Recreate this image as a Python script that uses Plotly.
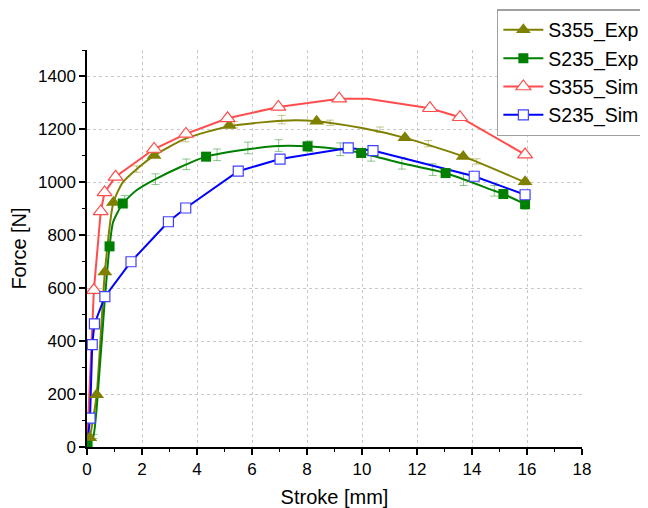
import plotly.graph_objects as go

# ---------------- data ----------------
# S355_Exp smooth curve and its marked points
s355_exp_curve_x = [0, 0.1, 0.35, 0.65, 0.96, 1.3, 1.75, 2.44, 3.58, 5.17, 7.1, 8.35, 10.0, 11.56, 13.68, 15.93]
s355_exp_curve_y = [0, 35, 197, 661, 924, 1000, 1045, 1101, 1165, 1212, 1233, 1231, 1205, 1168, 1098, 1000]
s355_exp_mark_x = [0.1, 0.35, 0.65, 0.96, 2.44, 5.17, 8.35, 11.56, 13.68, 15.93]
s355_exp_mark_y = [35, 197, 661, 924, 1101, 1215, 1231, 1168, 1098, 1002]
s355_exp_err_x = [1.81, 3.58, 5.35, 7.08, 8.84, 10.65, 12.41, 14.17, 15.93]
s355_exp_err_y = [1050, 1165, 1218, 1237, 1225, 1199, 1146, 1079, 1000]
s355_exp_err = [12, 12, 12, 16, 10, 10, 12, 10, 10]

# S235_Exp smooth curve and its marked points
s235_exp_curve_x = [0, 0.23, 0.45, 0.65, 0.82, 0.95, 1.3, 1.8, 2.49, 3.38, 4.33, 5.85, 6.97, 8.02, 9.21, 9.97, 11.45, 13.04, 14.81, 15.14, 15.93]
s235_exp_curve_y = [0, 40, 280, 560, 758, 850, 920, 970, 1012, 1057, 1097, 1125, 1137, 1136, 1125, 1111, 1072, 1035, 968, 956, 918]
s235_exp_mark_x = [0.02, 0.82, 1.30, 4.33, 8.02, 9.97, 13.04, 15.14, 15.93]
s235_exp_mark_y = [5, 758, 920, 1097, 1136, 1111, 1035, 956, 918]
s235_exp_err_x = [0.23, 1.37, 2.49, 3.61, 4.73, 5.85, 6.97, 8.09, 9.21, 10.33, 11.45, 12.57, 13.69, 14.81, 15.93]
s235_exp_err_y = [40, 930, 1012, 1068, 1104, 1130, 1139, 1136, 1125, 1100, 1072, 1048, 1010, 968, 912]
s235_exp_err = [8, 20, 20, 20, 22, 22, 22, 20, 24, 20, 22, 22, 22, 20, 14]

# S355_Sim polyline and its marked points
s355_sim_x = [0, 0.25, 0.50, 0.64, 1.04, 2.44, 3.6, 5.11, 6.96, 9.17, 10.2, 12.47, 13.56, 15.93]
s355_sim_y = [0, 593, 890, 962, 1021, 1126, 1183, 1242, 1285, 1316, 1316, 1280, 1246, 1105]
s355_sim_mark_x = [0.25, 0.50, 0.64, 1.04, 2.44, 3.6, 5.11, 6.96, 9.17, 12.47, 13.56, 15.93]
s355_sim_mark_y = [593, 890, 962, 1021, 1126, 1183, 1242, 1285, 1316, 1280, 1246, 1105]

# S235_Sim polyline and its marked points
s235_sim_x = [0, 0.11, 0.19, 0.27, 0.65, 1.60, 2.96, 3.59, 5.50, 7.02, 9.50, 10.4, 14.08, 15.93]
s235_sim_y = [0, 109, 387, 465, 568, 700, 851, 903, 1042, 1088, 1130, 1120, 1023, 953]
s235_sim_mark_x = [0.11, 0.19, 0.27, 0.65, 1.60, 2.96, 3.59, 5.50, 7.02, 9.50, 10.4, 14.08, 15.93]
s235_sim_mark_y = [109, 387, 465, 568, 700, 851, 903, 1042, 1088, 1130, 1120, 1023, 953]

legend_names = ["S355_Exp", "S235_Exp", "S355_Sim", "S235_Sim"]
x_tick_vals = [0, 2, 4, 6, 8, 10, 12, 14, 16, 18]
y_tick_vals = [0, 200, 400, 600, 800, 1000, 1200, 1400]

OLIVE = "#808000"
GREEN = "#008000"
RED = "#ff4d4d"
BLUE = "#0000ff"

fig = go.Figure()

# error bars (light)
fig.add_trace(go.Scatter(x=s355_exp_err_x, y=s355_exp_err_y, mode="markers",
                         marker=dict(size=1, color="rgba(0,0,0,0)"), showlegend=False, hoverinfo="skip",
                         error_y=dict(type="data", array=s355_exp_err, color="rgba(128,128,0,0.45)",
                                      thickness=1, width=4)))
fig.add_trace(go.Scatter(x=s235_exp_err_x, y=s235_exp_err_y, mode="markers",
                         marker=dict(size=1, color="rgba(0,0,0,0)"), showlegend=False, hoverinfo="skip",
                         error_y=dict(type="data", array=s235_exp_err, color="rgba(0,128,0,0.45)",
                                      thickness=1, width=4)))

# curves
fig.add_trace(go.Scatter(x=s355_exp_curve_x, y=s355_exp_curve_y, mode="lines",
                         line=dict(color=OLIVE, width=2, shape="spline", smoothing=0.6), showlegend=False))
fig.add_trace(go.Scatter(x=s235_exp_curve_x, y=s235_exp_curve_y, mode="lines",
                         line=dict(color=GREEN, width=2, shape="spline", smoothing=0.6), showlegend=False))
fig.add_trace(go.Scatter(x=s355_sim_x, y=s355_sim_y, mode="lines",
                         line=dict(color=RED, width=2), showlegend=False))
fig.add_trace(go.Scatter(x=s235_sim_x, y=s235_sim_y, mode="lines",
                         line=dict(color=BLUE, width=2), showlegend=False))

# markers
fig.add_trace(go.Scatter(x=s355_exp_mark_x, y=s355_exp_mark_y, mode="markers", showlegend=False,
                         marker=dict(symbol="triangle-up", size=13, color=OLIVE, line=dict(width=0))))
fig.add_trace(go.Scatter(x=s235_exp_mark_x, y=s235_exp_mark_y, mode="markers", showlegend=False,
                         marker=dict(symbol="square", size=10, color=GREEN, line=dict(width=0))))
fig.add_trace(go.Scatter(x=s355_sim_mark_x, y=s355_sim_mark_y, mode="markers", showlegend=False,
                         marker=dict(symbol="triangle-up", size=13, color="white", line=dict(width=1.2, color=RED))))
fig.add_trace(go.Scatter(x=s235_sim_mark_x, y=s235_sim_mark_y, mode="markers", showlegend=False,
                         marker=dict(symbol="square", size=10, color="white", line=dict(width=1.2, color="#4040ff"))))

# legend entries
legend_styles = [
    (OLIVE, dict(symbol="triangle-up", size=13, color=OLIVE, line=dict(width=0))),
    (GREEN, dict(symbol="square", size=10, color=GREEN, line=dict(width=0))),
    (RED, dict(symbol="triangle-up", size=13, color="white", line=dict(width=1.2, color=RED))),
    (BLUE, dict(symbol="square", size=10, color="white", line=dict(width=1.2, color="#4040ff"))),
]
for name, (col, mk) in zip(legend_names, legend_styles):
    fig.add_trace(go.Scatter(x=[None], y=[None], mode="lines+markers", name=name,
                             line=dict(color=col, width=2), marker=mk))

axis_font = dict(family="Liberation Sans, Arial, sans-serif", size=17, color="black")

# page body adds an 8px offset; margins compensate so the plot lands where the reference has it
fig.update_layout(
    width=648, height=508,
    margin=dict(l=79, r=74, t=42, b=69, autoexpand=False),
    paper_bgcolor="white", plot_bgcolor="white",
    font=dict(family="Liberation Sans, Arial, sans-serif", color="black"),
    legend=dict(x=0.828, y=1.103, xanchor="left", yanchor="top",
                bgcolor="white", bordercolor="#a0a0a0", borderwidth=1.5,
                font=dict(size=19.5, family="Liberation Sans, Arial, sans-serif"),
                itemwidth=40, tracegroupgap=0),
    xaxis=dict(range=[0, 18], tickvals=x_tick_vals, ticktext=[str(v) for v in x_tick_vals],
               showline=True, linecolor="black", linewidth=1.5, ticks="outside", ticklen=6,
               tickwidth=1.5, tickcolor="black", tickfont=axis_font,
               minor=dict(dtick=1, ticks="outside", ticklen=3, tickwidth=1.2, tickcolor="black", showgrid=False),
               showgrid=True, gridcolor="#c8c8c8", griddash="dot", gridwidth=1, zeroline=False,
               title=dict(text="Stroke [mm]", font=dict(size=20), standoff=12)),
    yaxis=dict(range=[0, 1500], tickvals=y_tick_vals, ticktext=[str(v) for v in y_tick_vals],
               showline=True, linecolor="black", linewidth=1.5, ticks="outside", ticklen=6,
               tickwidth=1.5, tickcolor="black", tickfont=axis_font,
               minor=dict(tickvals=[100, 300, 500, 700, 900, 1100, 1300, 1500], ticks="outside",
                          ticklen=3, tickwidth=1.2, tickcolor="black", showgrid=False),
               showgrid=True, gridcolor="#c8c8c8", griddash="dot", gridwidth=1, zeroline=False,
               title=dict(text="Force [N]", font=dict(size=20), standoff=8)),
)

fig.write_html("out.html")
